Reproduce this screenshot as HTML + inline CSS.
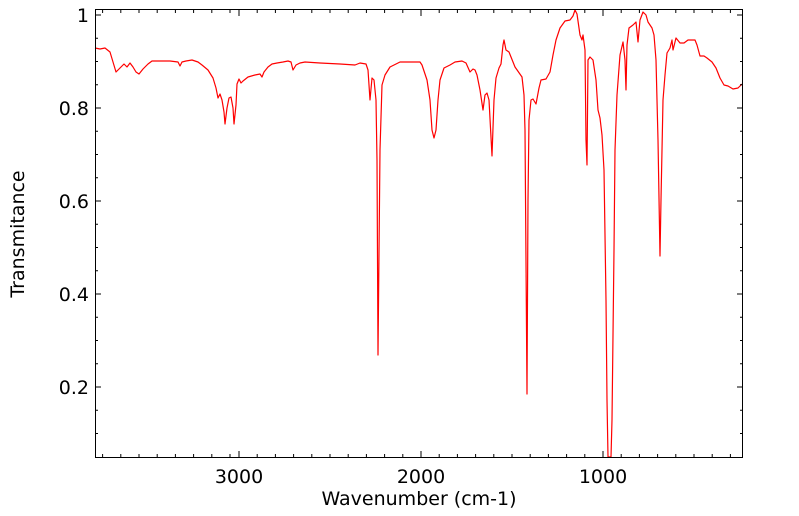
<!DOCTYPE html>
<html><head><meta charset="utf-8"><style>
html,body{margin:0;padding:0;background:#fff;}
svg{display:block;font-family:"DejaVu Sans","Liberation Sans",sans-serif;}
</style></head><body>
<svg width="799" height="516" viewBox="0 0 799 516">
<rect x="0" y="0" width="799" height="516" fill="#fff"/>
<polyline fill="none" stroke="#ff0000" stroke-width="1.2" stroke-linejoin="round" points="
95,48 100,49 105,48 110,52 113,62 116,72 120,68 124,64 127,67 130,63 133,67 136,72 139,74 143,69 148,64 152,61 160,61 170,61 178,62 180,66 182,62 186,61 192,60 198,62 202,65 208,70 213,78 216,88 218,98 220,94 222,100 224,112 225,124 227,108 229,98 231,97 233,108 234,124 236,105 237,84 239,79 241,83 243,81 248,77 255,75 260,74 262,77 264,72 268,67 272,64 277,63 283,62 288,61 291,62 293,70 296,65 300,63 305,62 320,63 340,64 355,65 360,63 366,64 368,70 370,100 372,78 374,80 376,100 377,160 378,355 380,150 382,85 385,75 390,67 400,62 420,62 422,65 427,80 430,100 432,130 434,138 436,130 438,100 440,80 444,68 450,65 455,62 462,61 466,63 470,72 473,69 475,70 477,75 480,90 483,110 485,95 487,93 489,100 492,156 494,100 496,78 499,68 501,64 503,45 504,40 506,50 509,52 515,67 522,77 524,95 525,130 527,394 528,200 529,120 531,100 533,99 536,104 539,88 541,80 546,79 550,72 553,55 556,40 560,28 565,21 570,20 573,16 575,10 577,14 580,35 582,40 583,35 585,50 586,140 587,165 588,60 590,57 593,60 596,80 598,110 600,118 602,135 604,170 606,300 607,400 608,457 611,457 612,420 614,250 615,150 617,95 620,55 623,42 625,60 626,90 627,45 629,28 633,25 636,22 638,42 640,20 643,12 646,15 648,22 652,28 654,35 656,60 658,140 660,256 661,200 663,100 665,75 667,53 670,48 672,40 673,50 676,38 680,43 684,43 688,40 695,40 697,45 700,56 704,56 707,58 712,62 716,68 720,78 724,85 728,86 733,89 738,88 742,84"/>
<rect x="95.5" y="9.5" width="647" height="448" fill="none" stroke="#000" stroke-width="1"/>
<g stroke="#000" stroke-width="1">
<line x1="239" y1="457" x2="239" y2="451"/><line x1="421" y1="457" x2="421" y2="451"/><line x1="603" y1="457" x2="603" y2="451"/>
<line x1="239" y1="10" x2="239" y2="16"/><line x1="421" y1="10" x2="421" y2="16"/><line x1="603" y1="10" x2="603" y2="16"/>
</g>
<g stroke="#000" stroke-width="1" id="xm">
<line x1="102.6" y1="457" x2="102.6" y2="454"/><line x1="120.8" y1="457" x2="120.8" y2="454"/><line x1="139" y1="457" x2="139" y2="454"/><line x1="157.2" y1="457" x2="157.2" y2="454"/><line x1="175.4" y1="457" x2="175.4" y2="454"/><line x1="193.6" y1="457" x2="193.6" y2="454"/><line x1="211.8" y1="457" x2="211.8" y2="454"/><line x1="230" y1="457" x2="230" y2="454"/>
<line x1="257.2" y1="457" x2="257.2" y2="454"/><line x1="275.4" y1="457" x2="275.4" y2="454"/><line x1="293.6" y1="457" x2="293.6" y2="454"/><line x1="311.8" y1="457" x2="311.8" y2="454"/><line x1="330" y1="457" x2="330" y2="454"/><line x1="348.2" y1="457" x2="348.2" y2="454"/><line x1="366.4" y1="457" x2="366.4" y2="454"/><line x1="384.6" y1="457" x2="384.6" y2="454"/><line x1="402.8" y1="457" x2="402.8" y2="454"/>
<line x1="439.2" y1="457" x2="439.2" y2="454"/><line x1="457.4" y1="457" x2="457.4" y2="454"/><line x1="475.6" y1="457" x2="475.6" y2="454"/><line x1="493.8" y1="457" x2="493.8" y2="454"/><line x1="512" y1="457" x2="512" y2="454"/><line x1="530.2" y1="457" x2="530.2" y2="454"/><line x1="548.4" y1="457" x2="548.4" y2="454"/><line x1="566.6" y1="457" x2="566.6" y2="454"/><line x1="584.8" y1="457" x2="584.8" y2="454"/>
<line x1="621.2" y1="457" x2="621.2" y2="454"/><line x1="639.4" y1="457" x2="639.4" y2="454"/><line x1="657.6" y1="457" x2="657.6" y2="454"/><line x1="675.8" y1="457" x2="675.8" y2="454"/><line x1="694" y1="457" x2="694" y2="454"/><line x1="712.2" y1="457" x2="712.2" y2="454"/><line x1="730.4" y1="457" x2="730.4" y2="454"/>
</g>
<use href="#xm" transform="translate(0,467) scale(1,-1)"/>
<g stroke="#000" stroke-width="1" id="ym">
<line x1="95" y1="15" x2="101" y2="15"/><line x1="95" y1="108" x2="101" y2="108"/><line x1="95" y1="201" x2="101" y2="201"/><line x1="95" y1="294" x2="101" y2="294"/><line x1="95" y1="387" x2="101" y2="387"/>
<line x1="95" y1="38.25" x2="98" y2="38.25"/><line x1="95" y1="61.5" x2="98" y2="61.5"/><line x1="95" y1="84.75" x2="98" y2="84.75"/><line x1="95" y1="131.25" x2="98" y2="131.25"/><line x1="95" y1="154.5" x2="98" y2="154.5"/><line x1="95" y1="177.75" x2="98" y2="177.75"/><line x1="95" y1="224.25" x2="98" y2="224.25"/><line x1="95" y1="247.5" x2="98" y2="247.5"/><line x1="95" y1="270.75" x2="98" y2="270.75"/><line x1="95" y1="317.25" x2="98" y2="317.25"/><line x1="95" y1="340.5" x2="98" y2="340.5"/><line x1="95" y1="363.75" x2="98" y2="363.75"/><line x1="95" y1="410.25" x2="98" y2="410.25"/><line x1="95" y1="433.5" x2="98" y2="433.5"/>
</g>
<use href="#ym" transform="translate(838,0) scale(-1,1)"/>
<g font-size="19" fill="#000" text-anchor="end">
<text x="89" y="22">1</text><text x="89" y="115">0.8</text><text x="89" y="208">0.6</text><text x="89" y="301">0.4</text><text x="89" y="394">0.2</text>
</g>
<g font-size="19" fill="#000" text-anchor="middle">
<text x="239" y="483">3000</text><text x="421" y="483">2000</text><text x="603" y="483">1000</text>
<text x="419" y="505">Wavenumber (cm-1)</text>
<text transform="translate(24,234) rotate(-90)">Transmitance</text>
</g>
</svg>
</body></html>
